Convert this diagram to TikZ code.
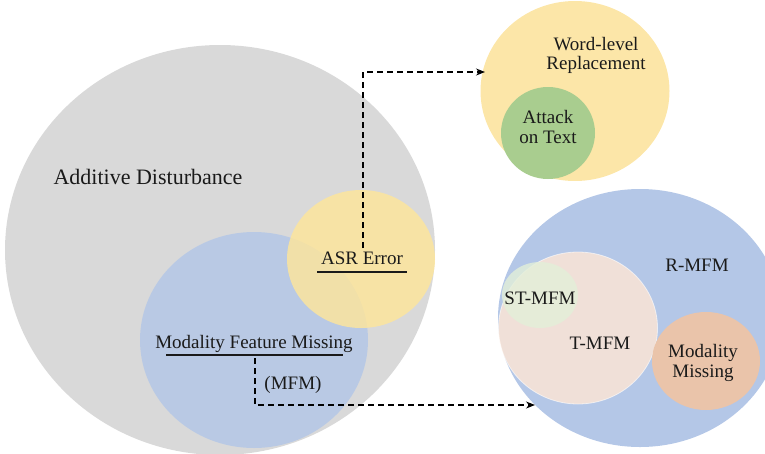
\documentclass[tikz,border=0pt]{standalone}
\usepackage{fontspec}
\setmainfont{Liberation Serif}
\usetikzlibrary{arrows.meta,shapes.geometric}
\definecolor{cgray}{HTML}{D9D9D9}
\definecolor{cblue}{HTML}{B4C7E7}
\definecolor{cyellow}{HTML}{FFE699}
\definecolor{cyel2}{HTML}{FCE6A8}
\definecolor{cgreen}{HTML}{A9CD8F}
\definecolor{cpink}{HTML}{FBE5D6}
\definecolor{clgreen}{HTML}{E3EFD8}
\definecolor{corange}{HTML}{EAC4AA}
\definecolor{ctext}{HTML}{1A1A1A}
\tikzset{
  blob/.style={ellipse, inner sep=0pt, draw=none},
  lbl/.style={text=ctext, inner sep=0pt, font=\fontsize{19}{20}\selectfont, align=center},
  conn/.style={line width=1.3pt, dash pattern=on 6pt off 4pt, -{Stealth[length=9pt,width=7pt]}},
  uline/.style={line width=1.5pt, ctext}
}
\begin{document}
\begin{tikzpicture}[x=1pt,y=-1pt]
\useasboundingbox (0,0) rectangle (765,453);
\clip (0,0) rectangle (765,453);
% left group
\node[blob, fill=cgray, minimum width=430pt, minimum height=410pt] (ad) at (220,250) {};
\node[blob, fill=cblue, fill opacity=0.85, minimum width=228pt, minimum height=216pt] (mfmc) at (254,340) {};
\node[blob, fill=cyellow, fill opacity=0.8, minimum width=148pt, minimum height=138pt] (asrc) at (361,259) {};
% top right group
\node[blob, fill=cyel2, minimum width=189pt, minimum height=180pt] (wlr) at (575,91) {};
\node[blob, fill=cgreen, minimum width=94pt, minimum height=92pt] (aot) at (548,133) {};
% bottom right group
\node[blob, fill=cblue, minimum width=284pt, minimum height=258pt] (rmfm) at (640,318) {};
\node[blob, fill=cpink, fill opacity=0.85, draw=white, draw opacity=0.6, line width=0.8pt, minimum width=159pt, minimum height=152pt] (tmfm) at (578,328) {};
\node[blob, fill=clgreen, fill opacity=0.8, minimum width=76pt, minimum height=66pt] (stmfm) at (540,295) {};
\node[blob, fill=corange, minimum width=108pt, minimum height=98pt] (mm) at (706,361) {};
% labels
\node[lbl, font=\fontsize{22}{24}\selectfont] (adt) at (148,177) {Additive Disturbance};
\node[lbl, anchor=base] (asr) at (362,264) {ASR Error};
\coordinate (asrl1) at (317,272);
\coordinate (asrl2) at (407,272);
\draw[uline] (asrl1) -- (asrl2);
\node[lbl, anchor=base] (mfm) at (254,348) {Modality Feature Missing};
\coordinate (mfml1) at (166,355);
\coordinate (mfml2) at (343,355);
\draw[uline] (mfml1) -- (mfml2);
\node[lbl] (mfmab) at (293,385) {(MFM)};
\node[lbl, font=\fontsize{19}{19}\selectfont] (wlrt) at (596,55) {Word-level\\Replacement};
\node[lbl, font=\fontsize{19}{20}\selectfont] (aott) at (548,127) {Attack\\on Text};
\node[lbl] (rmfmt) at (697,265) {R-MFM};
\node[lbl] (stmfmt) at (540,298) {ST-MFM};
\node[lbl] (tmfmt) at (600,343) {T-MFM};
\node[lbl, font=\fontsize{19}{20}\selectfont] (mmt) at (703,363) {Modality\\Missing};
% connectors
\coordinate (s1) at (363,248);
\coordinate (t1) at (485,72);
\draw[conn] (s1) |- (t1);
\coordinate (s2) at (255,358);
\coordinate (t2) at (535,405);
\draw[conn] (s2) |- (t2);
\end{tikzpicture}
\end{document}
